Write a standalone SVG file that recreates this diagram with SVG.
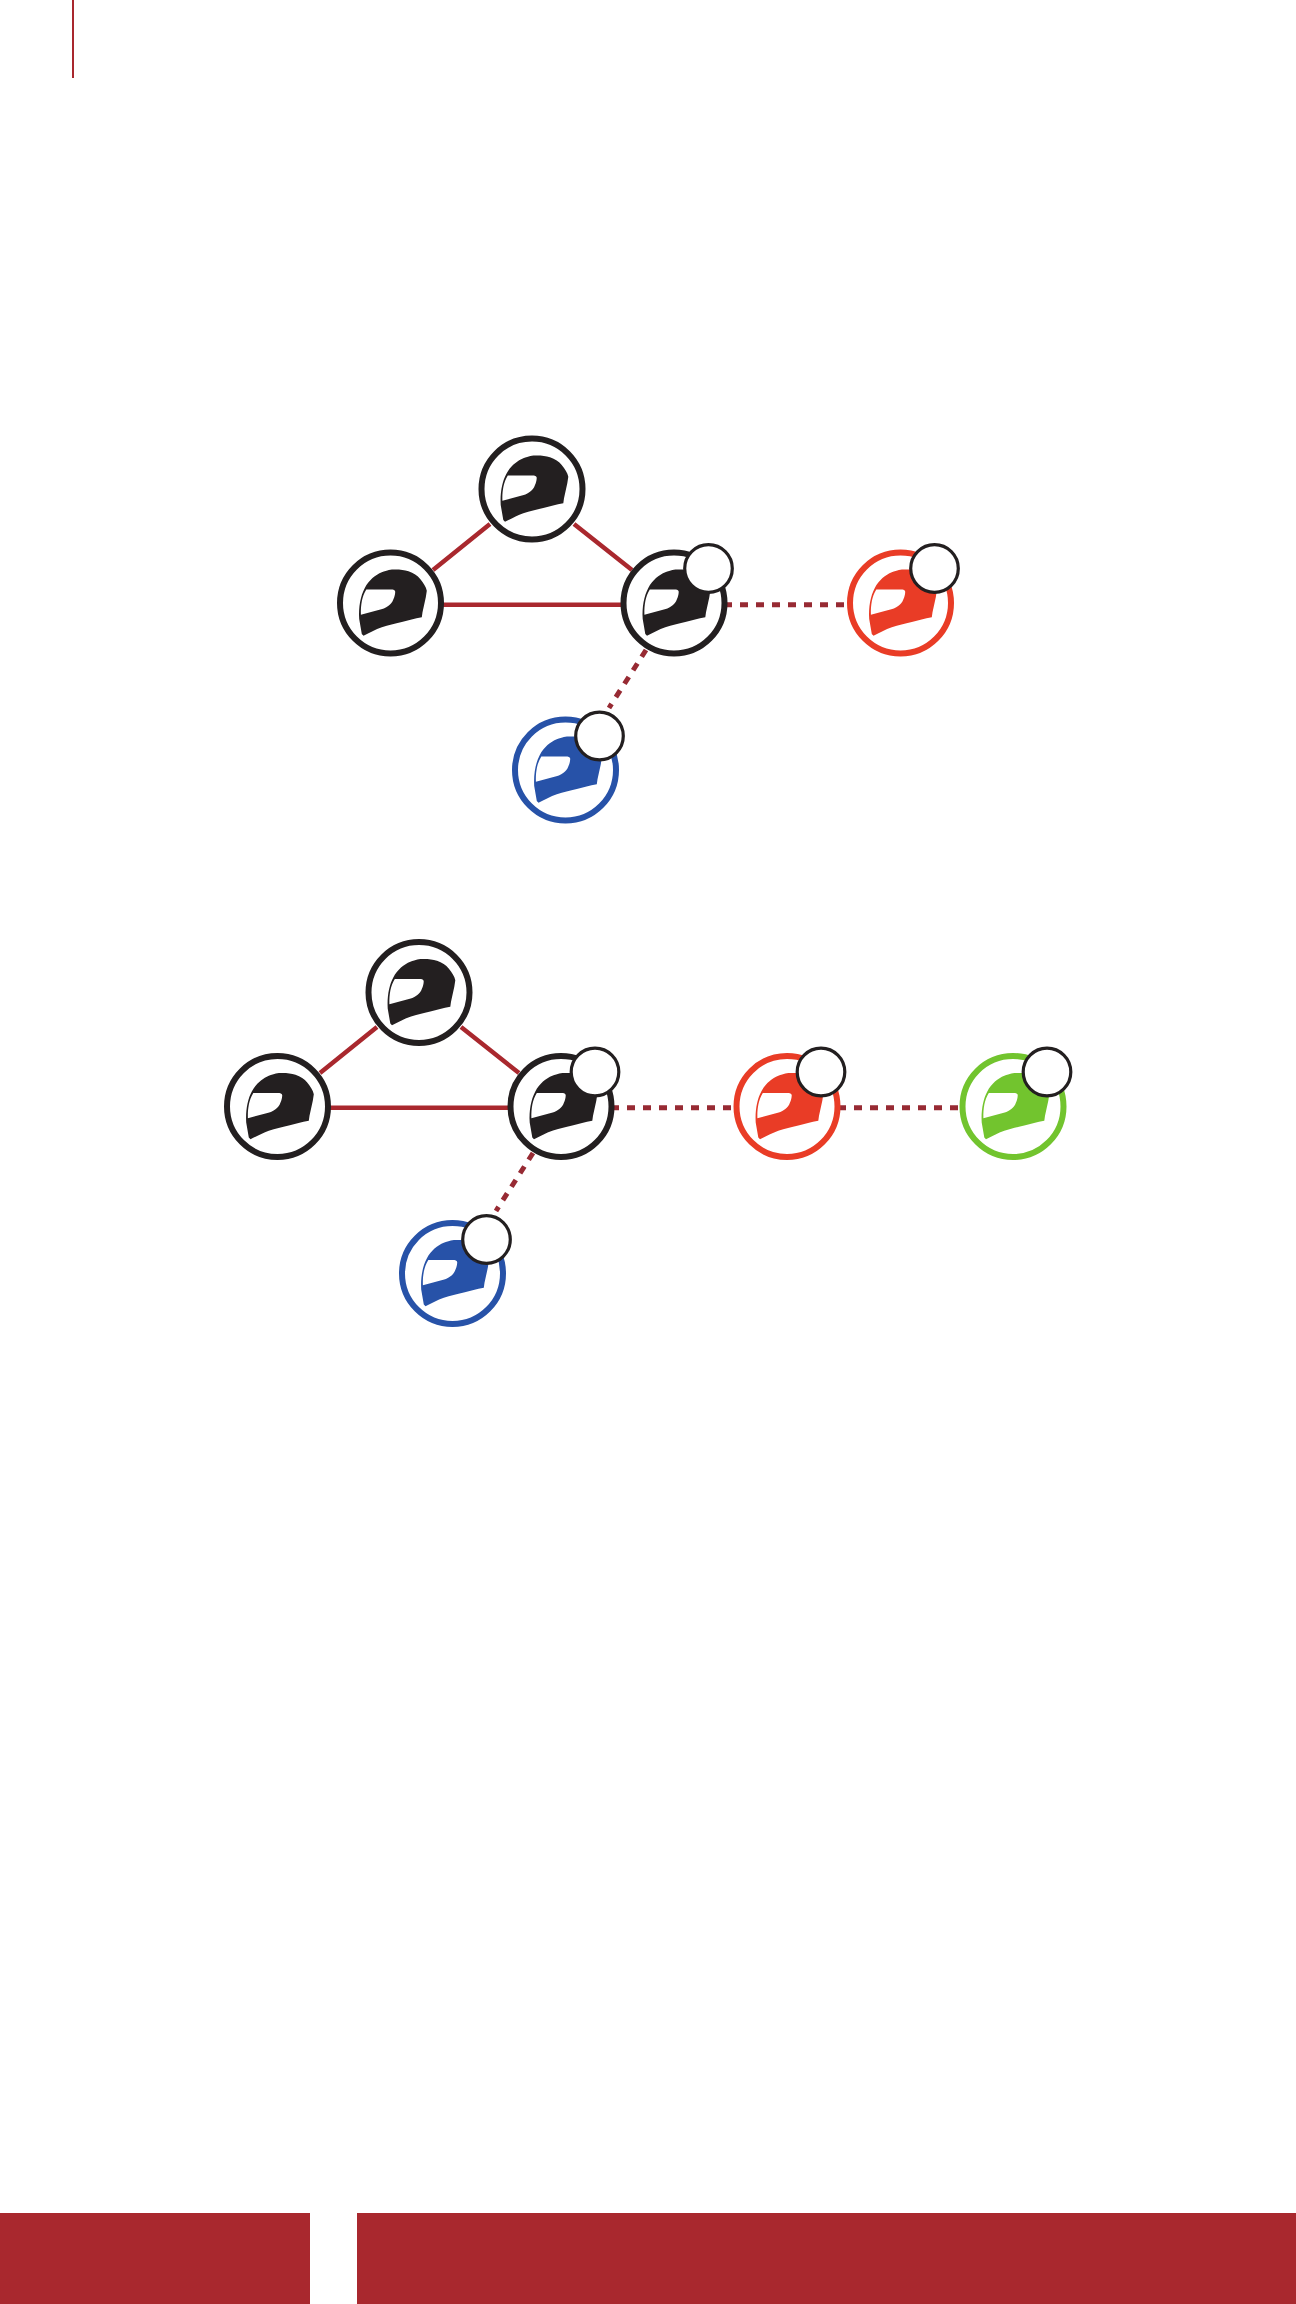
<svg xmlns="http://www.w3.org/2000/svg" xmlns:xlink="http://www.w3.org/1999/xlink" width="1296" height="2304" viewBox="0 0 1296 2304">
<style>
.bar{fill:#a9282e}
.solid{stroke:#a9282e;stroke-width:4.5;fill:none}
.dash{stroke:#972a33;stroke-width:5;fill:none;stroke-dasharray:8 8}
.ring{fill:#fff;stroke:currentColor;stroke-width:6}
.badge{fill:#fff;stroke:#231f20;stroke-width:3.2}
.visor{fill:#fff}
.shell{fill:currentColor;stroke:none}
.k{color:#231f20}.r{color:#e93c26}.b{color:#2752a8}.g{color:#72c42e}
</style>
<defs>
<g id="helmet">
<path class="shell" d="M-27 32.7 L-28.7 31 L-31.3 16 C-32 4 -30 -7 -25.7 -15 C-21.5 -23 -15 -28 -8.7 -30.7 C-3 -33 0 -33.5 4.7 -33.5 C10 -33.5 14 -33 18 -31.7 C23 -30 27 -27.5 29.7 -24 C33 -20 35.5 -16 36.3 -12.3 L35.3 -5.7 L32 9.3 L31.3 14.3 C24 15.5 18 17.2 11.3 19 C4 20.8 -2 22 -8.7 24.3 C-15 26.5 -21 30 -27 32.7 Z"/>
<path class="visor" d="M-24.2 -13.5 L0 -13.5 C3 -13.5 5 -13 4.7 -10.7 C4.5 -8 4 -6 3 -4 C2 -1 0 1.5 -2 2.7 C-5 5 -8 6 -12 7 L-29.6 11.7 C-29.8 6 -29.4 2 -28.6 -2.3 C-27.8 -6 -26.4 -10 -24.2 -13.5 Z"/>
</g>
<g id="node"><circle class="ring" r="50.5"/><use xlink:href="#helmet" href="#helmet"/></g>
<g id="badge"><circle class="badge" r="23.8"/></g>
</defs>
<rect width="1296" height="2304" fill="#fff"/>
<rect class="bar" x="72" y="0" width="2" height="78"/>
<rect class="bar" x="0" y="2213" width="310" height="91"/>
<rect class="bar" x="357" y="2213" width="939" height="91"/>
<g id="connectors">
<path class="solid" d="M390 604.7H674M433 570L490 524M574 524L632 570"/>
<path class="dash" d="M724 604.7H848"/>
<path class="dash" d="M646 650L609 708"/>
<path class="solid" d="M277 1107.7H561M320 1073L377 1027M461 1027L519 1073"/>
<path class="dash" d="M611 1107.7H735M838 1107.7H961"/>
<path class="dash" d="M533 1153L496 1211"/>
</g>
<g id="node-a1" class="k"><use xlink:href="#node" href="#node" x="532" y="489"/></g>
<g id="node-a2" class="k"><use xlink:href="#node" href="#node" x="390.5" y="603"/></g>
<g id="node-a3" class="k"><use xlink:href="#node" href="#node" x="674" y="603"/><use xlink:href="#badge" href="#badge" x="708.5" y="568.5"/></g>
<g id="node-a4" class="r"><use xlink:href="#node" href="#node" x="900.5" y="603"/><use xlink:href="#badge" href="#badge" x="934.5" y="568.5"/></g>
<g id="node-a5" class="b"><use xlink:href="#node" href="#node" x="565.5" y="770"/><use xlink:href="#badge" href="#badge" x="599.5" y="736"/></g>
<g id="node-b1" class="k"><use xlink:href="#node" href="#node" x="419" y="992.5"/></g>
<g id="node-b2" class="k"><use xlink:href="#node" href="#node" x="277.5" y="1106.5"/></g>
<g id="node-b3" class="k"><use xlink:href="#node" href="#node" x="561" y="1106.5"/><use xlink:href="#badge" href="#badge" x="595" y="1072"/></g>
<g id="node-b4" class="r"><use xlink:href="#node" href="#node" x="787" y="1106.5"/><use xlink:href="#badge" href="#badge" x="821" y="1072"/></g>
<g id="node-b5" class="g"><use xlink:href="#node" href="#node" x="1013" y="1106.5"/><use xlink:href="#badge" href="#badge" x="1047" y="1072"/></g>
<g id="node-b6" class="b"><use xlink:href="#node" href="#node" x="452.5" y="1273.5"/><use xlink:href="#badge" href="#badge" x="486.5" y="1239.5"/></g>
</svg>
